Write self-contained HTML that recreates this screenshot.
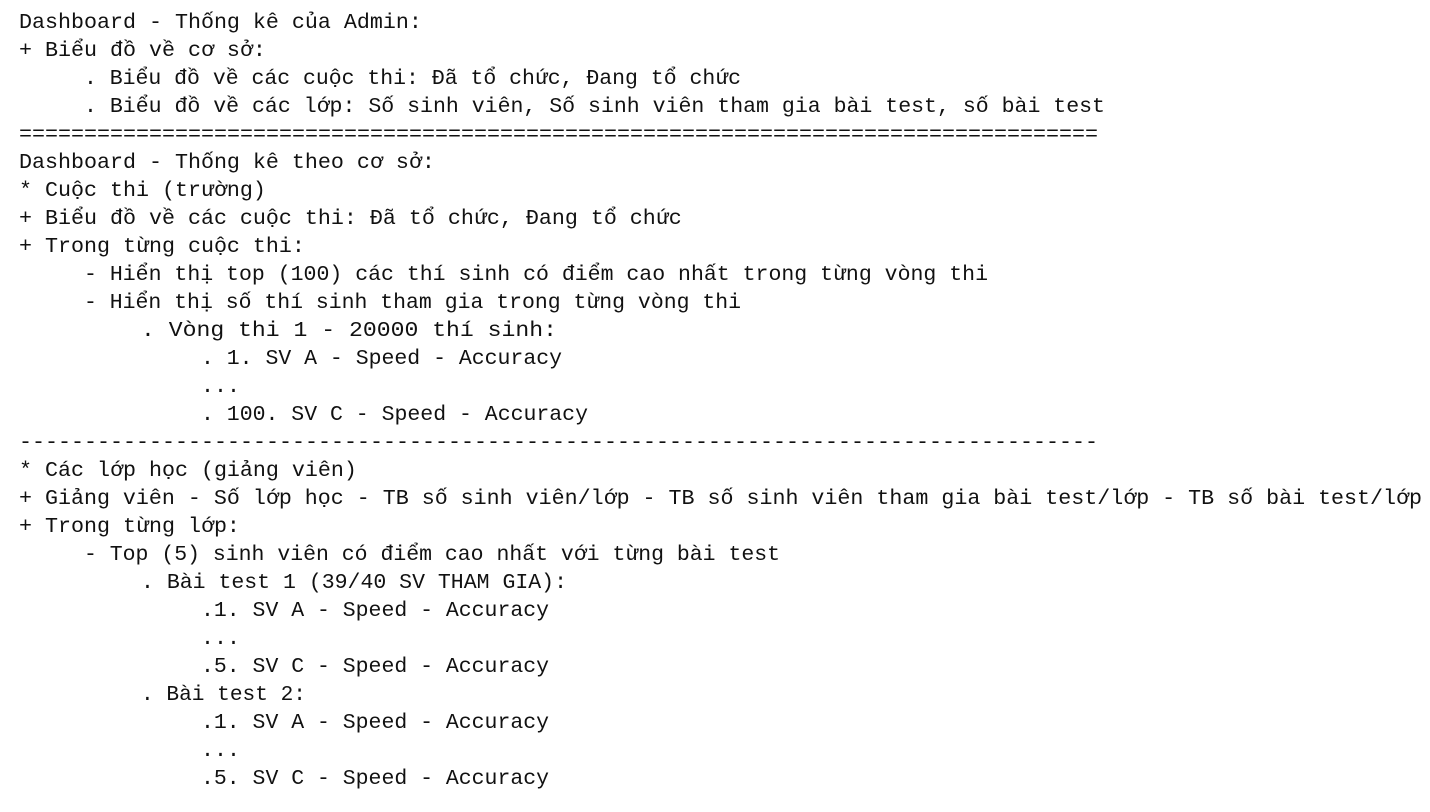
<!DOCTYPE html>
<html><head><meta charset="utf-8"><style>
html,body{margin:0;padding:0;background:#fff;}
svg{display:block;}
text{font-family:"Liberation Mono","DejaVu Sans Mono",monospace;font-size:21.67px;fill:#111;white-space:pre;}
</style></head><body>
<svg width="1430" height="812" xmlns="http://www.w3.org/2000/svg" xml:space="preserve">
<text x="19" y="28">Dashboard - Thống kê của Admin:</text>
<text x="19" y="56">+ Biểu đồ về cơ sở:</text>
<text x="84" y="84" textLength="657" lengthAdjust="spacingAndGlyphs">. Biểu đồ về các cuộc thi: Đã tổ chức, Đang tổ chức</text>
<text x="84" y="112" textLength="1021" lengthAdjust="spacingAndGlyphs">. Biểu đồ về các lớp: Số sinh viên, Số sinh viên tham gia bài test, số bài test</text>
<text x="19" y="140" textLength="1079" lengthAdjust="spacingAndGlyphs">===================================================================================</text>
<text x="19" y="168">Dashboard - Thống kê theo cơ sở:</text>
<text x="19" y="196">* Cuộc thi (trường)</text>
<text x="19" y="224">+ Biểu đồ về các cuộc thi: Đã tổ chức, Đang tổ chức</text>
<text x="19" y="252">+ Trong từng cuộc thi:</text>
<text x="84" y="280" textLength="904" lengthAdjust="spacingAndGlyphs">- Hiển thị top (100) các thí sinh có điểm cao nhất trong từng vòng thi</text>
<text x="84" y="308" textLength="657" lengthAdjust="spacingAndGlyphs">- Hiển thị số thí sinh tham gia trong từng vòng thi</text>
<text x="141" y="336" textLength="416" lengthAdjust="spacingAndGlyphs">. Vòng thi 1 - 20000 thí sinh:</text>
<text x="201" y="364" textLength="361" lengthAdjust="spacingAndGlyphs">. 1. SV A - Speed - Accuracy</text>
<text x="201" y="392">...</text>
<text x="201" y="420" textLength="387" lengthAdjust="spacingAndGlyphs">. 100. SV C - Speed - Accuracy</text>
<text x="19" y="448" textLength="1079" lengthAdjust="spacingAndGlyphs">-----------------------------------------------------------------------------------</text>
<text x="19" y="476">* Các lớp học (giảng viên)</text>
<text x="19" y="504" textLength="1403" lengthAdjust="spacingAndGlyphs">+ Giảng viên - Số lớp học - TB số sinh viên/lớp - TB số sinh viên tham gia bài test/lớp - TB số bài test/lớp</text>
<text x="19" y="532">+ Trong từng lớp:</text>
<text x="84" y="560" textLength="696" lengthAdjust="spacingAndGlyphs">- Top (5) sinh viên có điểm cao nhất với từng bài test</text>
<text x="141" y="588" textLength="426" lengthAdjust="spacingAndGlyphs">. Bài test 1 (39/40 SV THAM GIA):</text>
<text x="201" y="616" textLength="348" lengthAdjust="spacingAndGlyphs">.1. SV A - Speed - Accuracy</text>
<text x="201" y="644">...</text>
<text x="201" y="672" textLength="348" lengthAdjust="spacingAndGlyphs">.5. SV C - Speed - Accuracy</text>
<text x="141" y="700" textLength="165" lengthAdjust="spacingAndGlyphs">. Bài test 2:</text>
<text x="201" y="728" textLength="348" lengthAdjust="spacingAndGlyphs">.1. SV A - Speed - Accuracy</text>
<text x="201" y="756">...</text>
<text x="201" y="784" textLength="348" lengthAdjust="spacingAndGlyphs">.5. SV C - Speed - Accuracy</text>
</svg>
</body></html>
